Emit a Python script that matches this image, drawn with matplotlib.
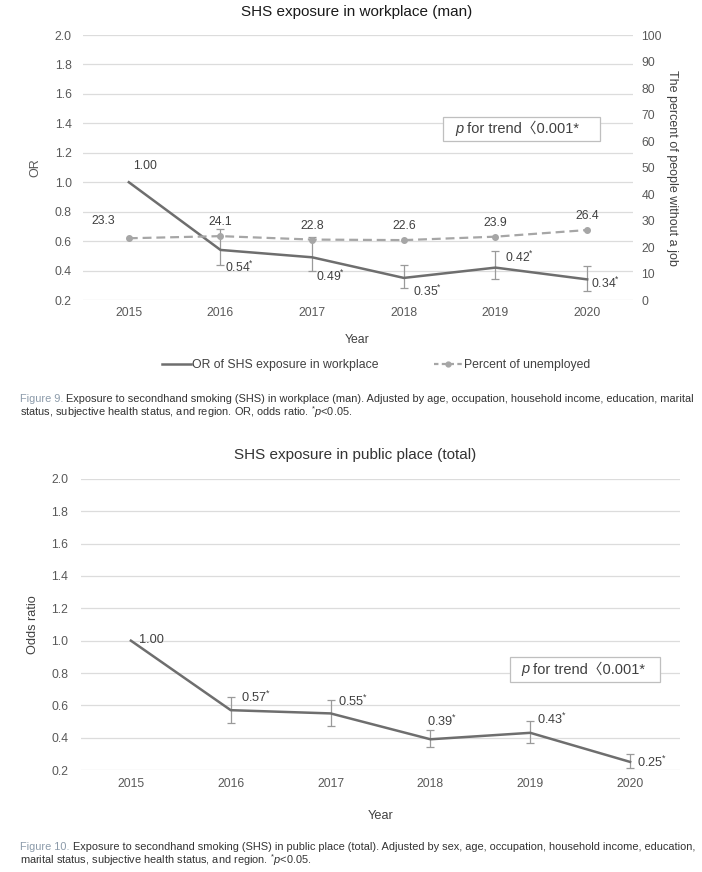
import numpy as np
import matplotlib.pyplot as plt
from matplotlib.patches import Rectangle
from matplotlib.lines import Line2D

plt.rcParams['font.family'] = ['Liberation Sans', 'Noto Sans CJK KR']
plt.rcParams['mathtext.fontset'] = 'custom'
plt.rcParams['mathtext.rm'] = 'Liberation Sans'
plt.rcParams['mathtext.it'] = 'Liberation Sans:italic'

years = [2015, 2016, 2017, 2018, 2019, 2020]

# Figure 9 - workplace (man)
or_work = [1.00, 0.54, 0.49, 0.35, 0.42, 0.34]
or_work_lo = [1.00, 0.44, 0.40, 0.28, 0.34, 0.26]
or_work_hi = [1.00, 0.68, 0.63, 0.44, 0.53, 0.43]
unemployed = [23.3, 24.1, 22.8, 22.6, 23.9, 26.4]

# Figure 10 - public place (total)
or_public = [1.00, 0.57, 0.55, 0.39, 0.43, 0.25]
or_public_lo = [1.00, 0.49, 0.47, 0.34, 0.37, 0.21]
or_public_hi = [1.00, 0.65, 0.63, 0.45, 0.50, 0.30]

W, H = 702, 872
DARK = '#6E6E6E'
LIGHT = '#A6A6A6'
GRID = '#DCDCDC'
TXT = '#595959'


def px(x0, y0, x1, y1):
    # pixel box (top-left origin) -> figure fraction rect
    return [x0 / W, 1 - y1 / H, (x1 - x0) / W, (y1 - y0) / H]


def style_axis(ax):
    for s in ax.spines.values():
        s.set_visible(False)
    ax.tick_params(length=0, labelcolor=TXT, labelsize=8.8)
    ax.grid(axis='y', color=GRID, lw=0.9)
    ax.set_axisbelow(True)


def or_label(v, star=True):
    s = '%.2f' % v
    return s + r'$^{*}$' if star else s


def pbox(ax, x0, y0, w, h, tx):
    ax.add_patch(Rectangle((x0, y0), w, h, transform=ax.transAxes, facecolor='white',
                           edgecolor='#BFBFBF', lw=0.9, zorder=6, clip_on=False))
    t = ax.text(tx, y0 + h / 2, 'p', style='italic', fontsize=10.5, color='#404040',
                transform=ax.transAxes, va='center', ha='left', zorder=7)
    ax.annotate(' for trend\u30080.001*', xy=(1, 0), xycoords=t, va='bottom', ha='left',
                fontsize=10.5, color='#404040', zorder=7)


def caption(ax, y, head, rest, line2):
    kw = dict(fontsize=7.9, family=['Liberation Sans Narrow', 'Liberation Sans'],
              va='bottom', ha='left')
    t = fig.text(20 / W, 1 - y / H, head, color='#8C9BAA', **kw)
    ax.annotate(rest, xy=(1, 0), xycoords=t, color='#333333', annotation_clip=False, **kw)
    fig.text(20 / W, 1 - (y + 16) / H, line2, color='#333333', **kw)


fig = plt.figure(figsize=(W / 100, H / 100), dpi=100)

# ---------------- top chart ----------------
ax1 = fig.add_axes(px(83, 35, 633, 300))
style_axis(ax1)
yerr = [np.array(or_work[1:]) - np.array(or_work_lo[1:]),
        np.array(or_work_hi[1:]) - np.array(or_work[1:])]
ax1.errorbar(years[1:], or_work[1:], yerr=yerr, fmt='none', ecolor='#9A9A9A',
             elinewidth=0.9, capsize=3, capthick=0.9, zorder=3)
ax1.plot(years, or_work, color=DARK, lw=1.8, zorder=4)
ax1.set_xlim(2014.5, 2020.5)
ax1.set_ylim(0.2, 2.0)
ax1.set_yticks(np.arange(0.2, 2.01, 0.2))
ax1.set_yticklabels(['%.1f' % v for v in np.arange(0.2, 2.01, 0.2)])
ax1.set_xticks(years)
ax1.tick_params(axis='y', pad=8)
ax1.tick_params(axis='x', pad=5)
ax1.set_ylabel('OR', fontsize=9, color=TXT, labelpad=10)

ax1r = ax1.twinx()
for s in ax1r.spines.values():
    s.set_visible(False)
ax1r.plot(years, unemployed, color=LIGHT, lw=1.6, dashes=(4, 2.2), marker='o', ms=4,
          zorder=5)
ax1r.set_ylim(0, 100)
ax1r.set_yticks(range(0, 101, 10))
ax1r.tick_params(length=0, labelcolor=TXT, labelsize=8.8, pad=6)
ax1r.set_ylabel('The percent of people without a job', rotation=270, fontsize=9,
                color='#404040', labelpad=12)

off_top = [(16, 16, 'center'), (5, -17, 'left'), (4, -19, 'left'),
           (9, -13, 'left'), (10, 10, 'left'), (4, -4, 'left')]
for i, (yr, v) in enumerate(zip(years, or_work)):
    dx, dy, ha = off_top[i]
    ax1.annotate(or_label(v, i > 0), (yr, v), xytext=(dx * 0.72, dy * 0.72),
                 textcoords='offset points', ha=ha, va='center', fontsize=8.8,
                 color='#404040', zorder=8)
for i, (yr, v) in enumerate(zip(years, unemployed)):
    dx, dy = (-26, 17) if i == 0 else (0, 14)
    ax1r.annotate('%.1f' % v, (yr, v), xytext=(dx * 0.72, dy * 0.72),
                  textcoords='offset points', ha='center', va='center', fontsize=8.8,
                  color='#404040', zorder=8)

pbox(ax1, (443 - 83) / 550, (300 - 141) / 265, 157 / 550, 24 / 265, (455 - 83) / 550)

fig.text(357 / W, 1 - 12 / H, 'SHS exposure in workplace (man)', ha='center',
         va='center', fontsize=11, color='#1A1A1A')
fig.text(357 / W, 1 - 340 / H, 'Year', ha='center', va='center', fontsize=8.8,
         color='#404040')

handles = [Line2D([], [], color=DARK, lw=1.8),
           Line2D([], [], color=LIGHT, lw=1.6, dashes=(2, 1.5), marker='o', ms=3.5)]
fig.legend(handles, ['OR of SHS exposure in workplace', 'Percent of unemployed'],
           loc='center', bbox_to_anchor=(376 / W, 1 - 365 / H), ncol=2, frameon=False,
           fontsize=8.8, handlelength=2.4, handletextpad=0.1, columnspacing=4.5,
           labelcolor='#404040')

caption(ax1, 404, 'Figure 9.',
        ' Exposure to secondhand smoking (SHS) in workplace (man). Adjusted by age, '
        'occupation, household income, education, marital',
        'status, subjective health status, and region. OR, odds ratio. '
        r'$^{*}\mathit{p}$<0.05.')

# ---------------- bottom chart ----------------
ax2 = fig.add_axes(px(81, 479, 680, 770))
style_axis(ax2)
yerr = [np.array(or_public[1:]) - np.array(or_public_lo[1:]),
        np.array(or_public_hi[1:]) - np.array(or_public[1:])]
ax2.errorbar(years[1:], or_public[1:], yerr=yerr, fmt='none', ecolor='#9A9A9A',
             elinewidth=0.9, capsize=3, capthick=0.9, zorder=3)
ax2.plot(years, or_public, color=DARK, lw=1.8, zorder=4)
ax2.set_xlim(2014.5, 2020.5)
ax2.set_ylim(0.2, 2.0)
ax2.set_yticks(np.arange(0.2, 2.01, 0.2))
ax2.set_yticklabels(['%.1f' % v for v in np.arange(0.2, 2.01, 0.2)])
ax2.set_xticks(years)
ax2.tick_params(axis='y', pad=9)
ax2.tick_params(axis='x', pad=6)
ax2.set_ylabel('Odds ratio', fontsize=9.2, color='#404040', labelpad=9)
ax2.set_xlabel('Year', fontsize=9.2, color='#404040', labelpad=14)

off_bot = [(8, 1), (10, 13), (7, 12), (-3, 18), (7, 13), (7, 0)]
for i, (yr, v) in enumerate(zip(years, or_public)):
    dx, dy = off_bot[i]
    ax2.annotate(or_label(v, i > 0), (yr, v), xytext=(dx * 0.72, dy * 0.72),
                 textcoords='offset points', ha='left', va='center', fontsize=9.2,
                 color='#404040', zorder=8)

pbox(ax2, (510 - 81) / 599, (770 - 682) / 291, 150 / 599, 25 / 291, (521 - 81) / 599)

fig.text(355 / W, 1 - 455 / H, 'SHS exposure in public place (total)', ha='center',
         va='center', fontsize=11, color='#333333')

caption(ax2, 852, 'Figure 10.',
        ' Exposure to secondhand smoking (SHS) in public place (total). Adjusted '
        'by sex, age, occupation, household income, education,',
        'marital status, subjective health status, and region. '
        r'$^{*}\mathit{p}$<0.05.')

fig.savefig('out.png', dpi=100)
